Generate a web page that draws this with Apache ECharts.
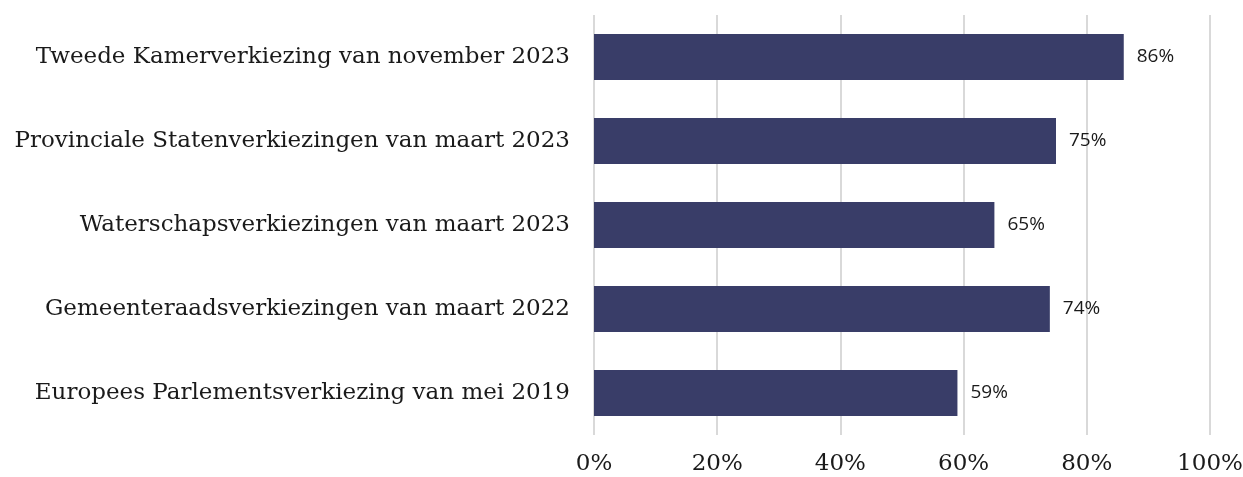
<!DOCTYPE html>
<html>
<head>
<meta charset="utf-8">
<script src="https://cdn.jsdelivr.net/npm/echarts@6/dist/echarts.min.js"></script>
<style>
html,body{margin:0;padding:0;background:#fff;}
#chart{width:1243px;height:477px;}
</style>
</head>
<body>
<div id="chart"></div>
<script>
const categories = [
  "Tweede Kamerverkiezing van november 2023",
  "Provinciale Statenverkiezingen van maart 2023",
  "Waterschapsverkiezingen van maart 2023",
  "Gemeenteraadsverkiezingen van maart 2022",
  "Europees Parlementsverkiezing van mei 2019"
];
const values = [86, 75, 65, 74, 59];
const xTicks = [0, 20, 40, 60, 80, 100];

const chart = echarts.init(document.getElementById('chart'), null, {renderer: 'canvas'});
chart.setOption({
  backgroundColor: '#ffffff',
  animation: false,
  grid: {left: 594, right: 33, top: 15, bottom: 42, containLabel: false, outerBoundsMode: 'none'},
  xAxis: {
    type: 'value',
    min: xTicks[0],
    max: xTicks[xTicks.length - 1],
    interval: 20,
    axisLine: {show: false},
    axisTick: {show: false},
    splitLine: {show: true, lineStyle: {color: '#d9d9d9', width: 2}},
    axisLabel: {
      formatter: v => v + '%',
      fontFamily: 'DejaVu Serif',
      fontSize: 23,
      color: '#1a1a1a',
      margin: 18
    }
  },
  yAxis: {
    type: 'category',
    data: categories,
    inverse: true,
    axisLine: {show: false},
    axisTick: {show: false},
    axisLabel: {
      fontFamily: 'DejaVu Serif',
      fontSize: 23,
      color: '#1a1a1a',
      margin: 24
    }
  },
  series: [{
    type: 'bar',
    data: values,
    barCategoryGap: '45%',
    itemStyle: {color: '#393d68'},
    label: {
      show: true,
      position: 'right',
      distance: 13,
      formatter: p => p.value + '%',
      fontFamily: 'Open Sans',
      fontSize: 19,
      color: '#1a1a1a'
    }
  }]
});
</script>
</body>
</html>
